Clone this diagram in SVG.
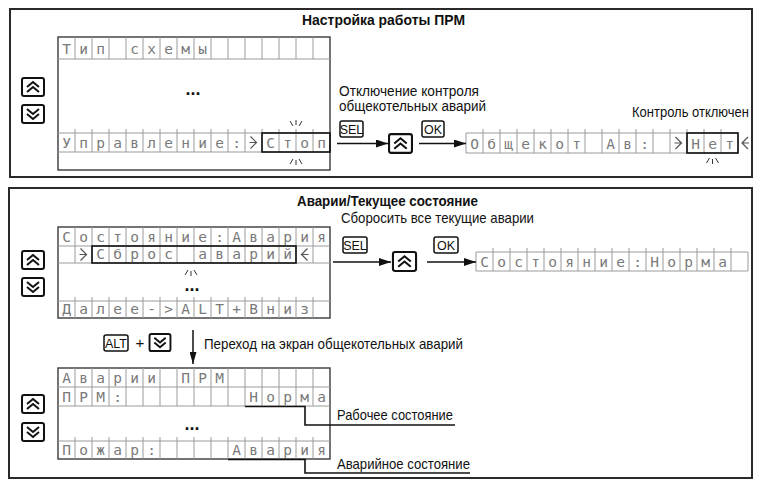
<svg xmlns="http://www.w3.org/2000/svg" xmlns:xlink="http://www.w3.org/1999/xlink" width="761" height="484" viewBox="0 0 761 484">
<style>
.panel{fill:#fff;stroke:#2a2a2a;stroke-width:2}
.frame{fill:#fff;stroke:#3a3a3a;stroke-width:1.4}
.grid{fill:none;stroke:#9a9a9a;stroke-width:1}
.sel{fill:none;stroke:#111;stroke-width:1.6}
.lcd{font-family:"DejaVu Sans Mono","Liberation Mono",monospace;font-size:14.5px;fill:#7a7a7a;text-anchor:middle}
.lbl{font-family:"Liberation Sans Narrow","Liberation Sans",Arial,sans-serif;font-size:15px;fill:#111}
.lbl2{font-family:"Liberation Sans Narrow","Liberation Sans",Arial,sans-serif;font-size:14px;fill:#111}
.ttl{font-family:"Liberation Sans Narrow","Liberation Sans",Arial,sans-serif;font-size:15.5px;font-weight:bold;fill:#111;text-anchor:middle}
.dots{font-family:"Liberation Sans",Arial,sans-serif;font-size:18px;font-weight:bold;fill:#111;text-anchor:middle}
.key{fill:#fff;stroke:#111;stroke-width:1.5}
.keyt{font-family:"Liberation Sans Narrow","Liberation Sans",Arial,sans-serif;font-size:12.5px;fill:#111;text-anchor:middle}
.blink{fill:none;stroke:#333;stroke-width:1}
.cur{fill:none;stroke:#555;stroke-width:1.2}
.conn{fill:none;stroke:#111;stroke-width:1.5}
.call{fill:none;stroke:#111;stroke-width:1.6}
</style>
<defs>
<marker id="ah" markerUnits="userSpaceOnUse" markerWidth="12" markerHeight="8" refX="12" refY="4" orient="auto"><path d="M0,0 L12,4 L0,8 z" fill="#111"/></marker>
<marker id="ahn" markerUnits="userSpaceOnUse" markerWidth="12" markerHeight="7" refX="12" refY="3.5" orient="auto"><path d="M0,0 L12,3.5 L0,7 z" fill="#111"/></marker>
<symbol id="bup" viewBox="0 0 24 20"><rect x="1" y="1" width="22" height="18" rx="2" fill="#fff" stroke="#111" stroke-width="2"/><path d="M6,10 L12,5 L18,10 M6,15 L12,10 L18,15" fill="none" stroke="#111" stroke-width="2"/></symbol>
<symbol id="bdn" viewBox="0 0 24 20"><rect x="1" y="1" width="22" height="18" rx="2" fill="#fff" stroke="#111" stroke-width="2"/><path d="M6,5 L12,10 L18,5 M6,10 L12,15 L18,10" fill="none" stroke="#111" stroke-width="2"/></symbol>
<g id="blinkdn" class="blink"><path d="M-6,-6 L-3,-1 M0,-7 L0,-2 M6,-6 L3,-1"/></g>
<g id="blinkup" class="blink"><path d="M-6,6 L-3,1 M0,7 L0,2 M6,6 L3,1"/></g>
<g id="curr" class="cur"><path d="M-3,-6 L3,0 L-3,6 M-4,0 H3"/></g>
<g id="curl" class="cur"><path d="M3,-6 L-3,0 L3,6 M4,0 H-3"/></g>
</defs>
<rect width="761" height="484" fill="#fff"/>

<g id="panel-setup">
<rect class="panel" x="10" y="9" width="742" height="168"/>
<text class="ttl" x="383.5" y="24.5" textLength="163" lengthAdjust="spacingAndGlyphs">Настройка работы ПРМ</text>
</g>
<g id="panel-alarms">
<rect class="panel" x="9" y="188" width="743" height="290"/>
<text class="ttl" x="387.5" y="205.5" textLength="181" lengthAdjust="spacingAndGlyphs">Аварии/Текущее состояние</text>
</g>

<g id="lcd-setup">
<rect class="frame" x="58" y="37" width="272" height="133"/>
<path class="grid" d="M58,59 H330 M75,37 V59 M92,37 V59 M109,37 V59 M126,37 V59 M143,37 V59 M160,37 V59 M177,37 V59 M194,37 V59 M211,37 V59 M228,37 V59 M245,37 V59 M262,37 V59 M279,37 V59 M296,37 V59 M313,37 V59"/>
<path class="grid" d="M58,133 H330 M58,152 H330 M75,129 V152 M92,129 V152 M109,129 V152 M126,129 V152 M143,129 V152 M160,129 V152 M177,129 V152 M194,129 V152 M211,129 V152 M228,129 V152 M245,129 V152 M262,129 V152 M279,129 V152 M296,129 V152 M313,129 V152"/>
<text class="lcd" x="66.5 83.5 100.5 117.5 134.5 151.5 168.5 185.5 202.5" y="53.5">Тип схемы</text>
<text class="dots" x="193" y="95">...</text>
<text class="lcd" x="66.5 83.5 100.5 117.5 134.5 151.5 168.5 185.5 202.5 219.5 236.5" y="147.5">Управление:</text>
<use href="#curr" x="253.5" y="142.5"/>
<text class="lcd" x="270.5 287.5 304.5 321.5" y="147.5">Стоп</text>
<rect class="sel" x="262" y="133" width="68" height="19"/>
<use href="#blinkdn" x="296" y="127"/>
<use href="#blinkup" x="296" y="158"/>
</g>
<g id="keys-setup">
<use href="#bup" x="21" y="77" width="24" height="20"/>
<use href="#bdn" x="21" y="104" width="24" height="20"/>
</g>

<g id="label-off">
<text class="lbl2" x="339" y="95.5" textLength="140" lengthAdjust="spacingAndGlyphs">Отключение контроля</text>
<text class="lbl2" x="339" y="110.5" textLength="147" lengthAdjust="spacingAndGlyphs">общекотельных аварий</text>
</g>
<g id="key-sel-1"><rect class="key" x="340" y="121" width="23" height="16" rx="2"/><text class="keyt" x="351.5" y="133.5">SEL</text></g>
<g id="key-up-1"><use href="#bup" x="388" y="133" width="25" height="21"/></g>
<g id="key-ok-1"><rect class="key" x="422" y="121" width="22" height="16" rx="2"/><text class="keyt" x="433" y="133.5">OK</text></g>

<g id="lcd-result-1">
<path class="grid" d="M466,133 H738 M466,153 H738 M466,133 V153 M738,133 V153 M483,129 V153 M500,129 V153 M517,129 V153 M534,129 V153 M551,129 V153 M568,129 V153 M585,129 V153 M602,129 V153 M619,129 V153 M636,129 V153 M653,129 V153 M670,129 V153 M687,129 V153 M704,129 V153 M721,129 V153"/>
<text class="lcd" x="474.5 491.5 508.5 525.5 542.5 559.5 576.5 593.5 610.5 627.5 644.5" y="148.5">Общекот Ав:</text>
<use href="#curr" x="678.5" y="143"/>
<text class="lcd" x="695.5 712.5 729.5" y="148.5">Нет</text>
<rect class="sel" x="687" y="133" width="51" height="20"/>
<use href="#curl" x="745" y="143"/>
<use href="#blinkup" x="712.5" y="157"/>
<text class="lbl2" x="632" y="117" textLength="117" lengthAdjust="spacingAndGlyphs">Контроль отключен</text>
</g>

<g id="lcd-alarms">
<rect class="frame" x="58" y="227" width="272" height="91"/>
<path class="grid" d="M58,246 H330 M58,263 H330 M75,227 V263 M92,227 V263 M109,227 V263 M126,227 V263 M143,227 V263 M160,227 V263 M177,227 V263 M194,227 V263 M211,227 V263 M228,227 V263 M245,227 V263 M262,227 V263 M279,227 V263 M296,227 V263 M313,227 V263"/>
<path class="grid" d="M58,301 H330 M75,297 V318 M92,297 V318 M109,297 V318 M126,297 V318 M143,297 V318 M160,297 V318 M177,297 V318 M194,297 V318 M211,297 V318 M228,297 V318 M245,297 V318 M262,297 V318 M279,297 V318 M296,297 V318 M313,297 V318"/>
<text class="lcd" x="66.5 83.5 100.5 117.5 134.5 151.5 168.5 185.5 202.5 219.5 236.5 253.5 270.5 287.5 304.5 321.5" y="241.5">Состояние:Авария</text>
<use href="#curr" x="83.5" y="254.5"/>
<text class="lcd" x="100.5 117.5 134.5 151.5 168.5 185.5 202.5 219.5 236.5 253.5 270.5 287.5" y="259">Сброс аварий</text>
<use href="#curl" x="304.5" y="254.5"/>
<rect class="sel" x="92" y="246" width="204" height="17"/>
<use href="#blinkup" x="191" y="269"/>
<text class="dots" x="192" y="291">...</text>
<text class="lcd" x="66.5 83.5 100.5 117.5 134.5 151.5 168.5 185.5 202.5 219.5 236.5 253.5 270.5 287.5 304.5" y="314">Далее-&gt;ALT+Вниз</text>
</g>
<g id="keys-alarms">
<use href="#bup" x="21" y="250" width="24" height="20"/>
<use href="#bdn" x="21" y="277" width="24" height="20"/>
</g>

<g id="label-reset"><text class="lbl" x="341" y="223" textLength="193" lengthAdjust="spacingAndGlyphs">Сборосить все текущие аварии</text></g>
<g id="key-sel-2"><rect class="key" x="343" y="237" width="24" height="16" rx="2"/><text class="keyt" x="355" y="249.5">SEL</text></g>
<g id="key-up-2"><use href="#bup" x="391" y="251" width="27" height="21"/></g>
<g id="key-ok-2"><rect class="key" x="434" y="237" width="24" height="16" rx="2"/><text class="keyt" x="446" y="249.5">OK</text></g>

<g id="lcd-result-2">
<path class="grid" d="M476,252 H748 M476,271 H748 M476,252 V271 M748,252 V271 M493,248 V271 M510,248 V271 M527,248 V271 M544,248 V271 M561,248 V271 M578,248 V271 M595,248 V271 M612,248 V271 M629,248 V271 M646,248 V271 M663,248 V271 M680,248 V271 M697,248 V271 M714,248 V271 M731,248 V271"/>
<text class="lcd" x="484.5 501.5 518.5 535.5 552.5 569.5 586.5 603.5 620.5 637.5 654.5 671.5 688.5 705.5 722.5" y="266.5">Состояние:Норма</text>
</g>

<g id="key-alt"><rect class="key" x="104" y="335" width="24" height="16" rx="2"/><text class="keyt" x="116" y="347.5">ALT</text></g>
<g id="plus"><text class="lbl" x="140" y="348" text-anchor="middle">+</text></g>
<g id="key-down"><use href="#bdn" x="148" y="333" width="24" height="19"/></g>
<g id="label-goto"><text class="lbl" x="204" y="349" textLength="259" lengthAdjust="spacingAndGlyphs">Переход на экран общекотельных аварий</text></g>

<g id="lcd-boiler">
<rect class="frame" x="58" y="368" width="272" height="91"/>
<path class="grid" d="M58,387 H330 M58,406 H330 M75,368 V406 M92,368 V406 M109,368 V406 M126,368 V406 M143,368 V406 M160,368 V406 M177,368 V406 M194,368 V406 M211,368 V406 M228,368 V406 M245,368 V406 M262,368 V406 M279,368 V406 M296,368 V406 M313,368 V406"/>
<path class="grid" d="M58,441 H330 M75,437 V459 M92,437 V459 M109,437 V459 M126,437 V459 M143,437 V459 M160,437 V459 M177,437 V459 M194,437 V459 M211,437 V459 M228,437 V459 M245,437 V459 M262,437 V459 M279,437 V459 M296,437 V459 M313,437 V459"/>
<text class="lcd" x="66.5 83.5 100.5 117.5 134.5 151.5" y="382.5">Аварии</text>
<text class="lcd" x="185.5 202.5 219.5" y="382.5">ПРМ</text>
<text class="lcd" x="66.5 83.5 100.5 117.5" y="401.5">ПРМ:</text>
<text class="lcd" x="253.5 270.5 287.5 304.5 321.5" y="401.5">Норма</text>
<text class="dots" x="192" y="430">...</text>
<text class="lcd" x="66.5 83.5 100.5 117.5 134.5 151.5" y="455">Пожар:</text>
<text class="lcd" x="236.5 253.5 270.5 287.5 304.5 321.5" y="455">Авария</text>
</g>
<g id="keys-boiler">
<use href="#bup" x="21" y="394" width="24" height="20"/>
<use href="#bdn" x="21" y="422" width="24" height="20"/>
</g>
<g id="label-work"><text class="lbl" x="337" y="420" textLength="116" lengthAdjust="spacingAndGlyphs">Рабочее состояние</text></g>
<g id="label-alarm"><text class="lbl" x="337" y="469" textLength="133" lengthAdjust="spacingAndGlyphs">Аварийное состояние</text></g>

<g id="connectors">
<path class="conn" d="M337,143.5 H388" marker-end="url(#ah)"/>
<path class="conn" d="M419,143.5 H466" marker-end="url(#ah)"/>
<path class="conn" d="M333,262 H391" marker-end="url(#ah)"/>
<path class="conn" d="M427,262 H476" marker-end="url(#ah)"/>
<path class="conn" d="M193,330 V364" marker-end="url(#ahn)"/>
<path class="call" d="M245,406.5 H305 V425 H455"/>
<path class="call" d="M228,459.5 H305 V473 H470"/>
</g>
</svg>
